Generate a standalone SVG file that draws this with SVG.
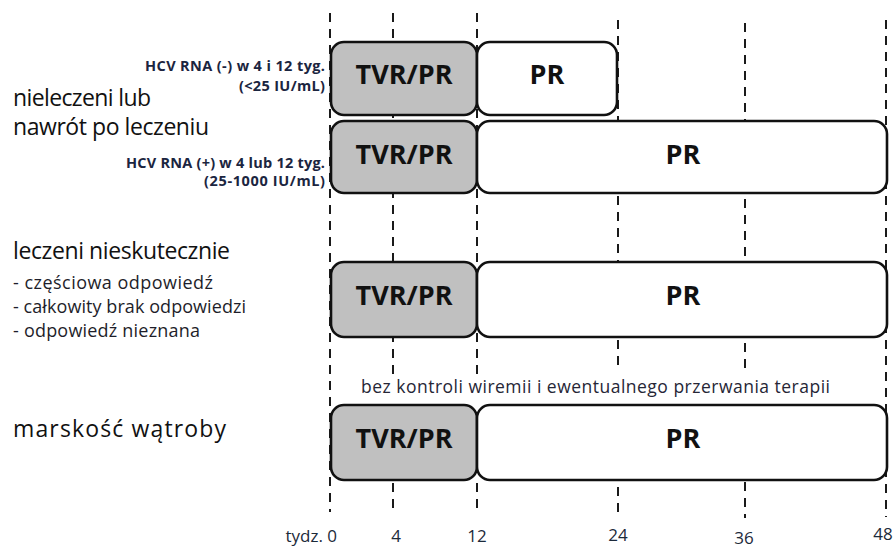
<svg xmlns="http://www.w3.org/2000/svg" width="896" height="549" viewBox="0 0 896 549">
<style>
.grid{stroke:#1a1a1a;stroke-width:2;stroke-dasharray:9 7;fill:none}
.box{stroke:#111;stroke-width:2.6}
.tvr{fill:#c0c0c0}
.pr{fill:#fff}
.blab{font-family:"Open Sans","Liberation Sans",sans-serif;font-weight:700;font-size:27px;fill:#111;text-anchor:middle}
.main{font-family:"Open Sans","Liberation Sans",sans-serif;font-size:23px;font-weight:500;fill:#111}
.sub{font-family:"Open Sans","Liberation Sans",sans-serif;font-size:18px;fill:#1e1e2a}
.hcv{font-family:"Open Sans","Liberation Sans",sans-serif;font-weight:700;font-size:14.5px;fill:#1b2540;text-anchor:end}
.ax{font-family:"Open Sans","Liberation Sans",sans-serif;font-size:17px;fill:#1c2a3a;text-anchor:middle}
.note{font-family:"Open Sans","Liberation Sans",sans-serif;font-size:17.5px;fill:#262636}
</style>
<g id="connectors">
<line class="grid" x1="330" y1="13" x2="330" y2="512"/>
<line class="grid" x1="393" y1="13" x2="393" y2="375"/>
<line class="grid" x1="393" y1="483" x2="393" y2="512"/>
<line class="grid" x1="477" y1="13" x2="477" y2="375"/>
<line class="grid" x1="477" y1="483" x2="477" y2="512"/>
<line class="grid" x1="618" y1="20" x2="618" y2="368"/>
<line class="grid" x1="618" y1="487" x2="618" y2="517"/>
<line class="grid" x1="745" y1="23" x2="745" y2="368"/>
<line class="grid" x1="745" y1="482" x2="745" y2="518"/>
<line class="grid" x1="886" y1="20" x2="886" y2="517"/>
</g>
<g id="labels-left">
<text class="hcv" x="325" y="71" textLength="180" lengthAdjust="spacing">HCV RNA (-) w 4 i 12 tyg.</text>
<text class="hcv" x="325" y="91" textLength="86" lengthAdjust="spacing">(&lt;25 IU/mL)</text>
<text class="main" x="13" y="106" textLength="138" lengthAdjust="spacing">nieleczeni lub</text>
<text class="main" x="13" y="135" textLength="196" lengthAdjust="spacing">nawrót po leczeniu</text>
<text class="hcv" x="325" y="168" textLength="199" lengthAdjust="spacing">HCV RNA (+) w 4 lub 12 tyg.</text>
<text class="hcv" x="325" y="186" textLength="121" lengthAdjust="spacing">(25-1000  IU/mL)</text>
<text class="main" x="13" y="259" textLength="217" lengthAdjust="spacing">leczeni nieskutecznie</text>
<text class="sub" x="13" y="289" textLength="200" lengthAdjust="spacing">- częściowa odpowiedź</text>
<text class="sub" x="13" y="313" textLength="233" lengthAdjust="spacing">- całkowity brak odpowiedzi</text>
<text class="sub" x="13" y="337" textLength="187" lengthAdjust="spacing">- odpowiedź nieznana</text>
<text class="main" x="13" y="437" textLength="213" lengthAdjust="spacing">marskość  wątroby</text>
</g>
<g id="row1">
<rect class="box tvr" x="331" y="42" width="146" height="73" rx="13"/>
<text class="blab" x="404" y="84">TVR/PR</text>
<rect class="box pr" x="477" y="42" width="140" height="73" rx="13"/>
<text class="blab" x="547" y="84">PR</text>
</g>
<g id="row2">
<rect class="box tvr" x="331" y="121" width="146" height="72" rx="13"/>
<text class="blab" x="404" y="164">TVR/PR</text>
<rect class="box pr" x="477" y="121" width="410" height="72" rx="13"/>
<text class="blab" x="683" y="164">PR</text>
</g>
<g id="row3">
<rect class="box tvr" x="331" y="262" width="146" height="75" rx="13"/>
<text class="blab" x="404" y="305">TVR/PR</text>
<rect class="box pr" x="477" y="262" width="410" height="75" rx="13"/>
<text class="blab" x="683" y="305">PR</text>
</g>
<g id="note">
<text class="note" x="361" y="393" textLength="469" lengthAdjust="spacing">bez kontroli wiremii i ewentualnego przerwania terapii</text>
</g>
<g id="row4">
<rect class="box tvr" x="331" y="405" width="146" height="75" rx="13"/>
<text class="blab" x="404" y="448">TVR/PR</text>
<rect class="box pr" x="477" y="405" width="410" height="75" rx="13"/>
<text class="blab" x="683" y="448">PR</text>
</g>
<g id="axis">
<text class="ax" x="337" y="542" style="text-anchor:end">tydz. 0</text>
<text class="ax" x="396" y="542">4</text>
<text class="ax" x="477" y="542">12</text>
<text class="ax" x="618" y="541">24</text>
<text class="ax" x="744" y="544">36</text>
<text class="ax" x="883" y="540">48</text>
</g>
</svg>
